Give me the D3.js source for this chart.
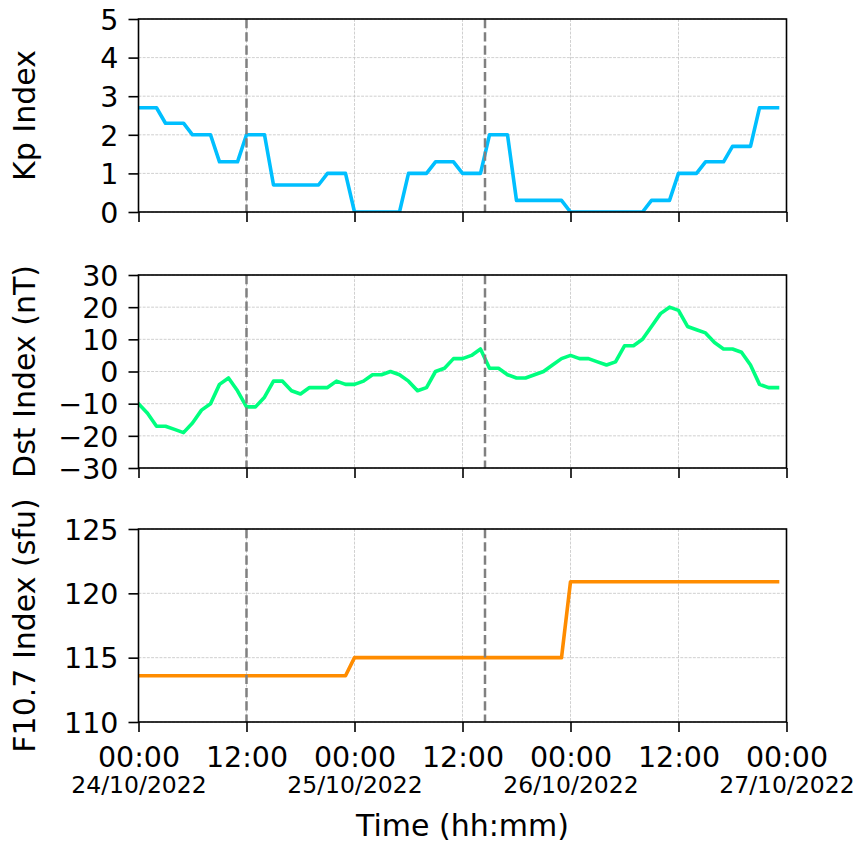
<!DOCTYPE html>
<html><head><meta charset="utf-8">
<script src="https://cdn.jsdelivr.net/npm/d3@7"></script>
<style>body{margin:0;background:#fff} text{font-family:"DejaVu Sans",sans-serif;fill:#000}</style>
</head><body><svg id="c" width="858" height="847"></svg>
<script>
// Hourly values, 24/10/2022 00:00 .. 26/10/2022 23:00
const kpValues = [2.7,2.7,2.7, 2.3,2.3,2.3, 2.0,2.0,2.0, 1.3,1.3,1.3,
  2.0,2.0,2.0, 0.7,0.7,0.7, 0.7,0.7,0.7, 1.0,1.0,1.0,
  0,0,0, 0,0,0, 1.0,1.0,1.0, 1.3,1.3,1.3,
  1.0,1.0,1.0, 2.0,2.0,2.0, 0.3,0.3,0.3, 0.3,0.3,0.3,
  0,0,0, 0,0,0, 0,0,0, 0.3,0.3,0.3,
  1.0,1.0,1.0, 1.3,1.3,1.3, 1.7,1.7,1.7, 2.7,2.7,2.7];
const dstValues = [-10,-13,-17,-17,-18,-19,-16,-12,-10,-4,-2,-6,
  -11,-11,-8,-3,-3,-6,-7,-5,-5,-5,-3,-4,
  -4,-3,-1,-1,0,-1,-3,-6,-5,0,1,4,
  4,5,7,1,1,-1,-2,-2,-1,0,2,4,
  5,4,4,3,2,3,8,8,10,14,18,20,
  19,14,13,12,9,7,7,6,2,-4,-5,-5];
const f107Values = [113.6,113.6,113.6,113.6,113.6,113.6,113.6,113.6,113.6,113.6,113.6,113.6,
  113.6,113.6,113.6,113.6,113.6,113.6,113.6,113.6,113.6,113.6,113.6,113.6,
  115.0,115.0,115.0,115.0,115.0,115.0,115.0,115.0,115.0,115.0,115.0,115.0,
  115.0,115.0,115.0,115.0,115.0,115.0,115.0,115.0,115.0,115.0,115.0,115.0,
  120.9,120.9,120.9,120.9,120.9,120.9,120.9,120.9,120.9,120.9,120.9,120.9,
  120.9,120.9,120.9,120.9,120.9,120.9,120.9,120.9,120.9,120.9,120.9,120.9];
const startTime = new Date(2022, 9, 24, 0, 0);
const endTime = new Date(2022, 9, 27, 0, 0);
const times = kpValues.map((_, i) => d3.timeHour.offset(startTime, i));
const markerTimes = [new Date(2022, 9, 24, 12, 0), new Date(2022, 9, 25, 14, 30)];
const xTickTimes = d3.timeHour.every(12).range(startTime, d3.timeHour.offset(endTime, 1));
const kpTicks = [0,1,2,3,4,5];
const dstTicks = [-30,-20,-10,0,10,20,30];
const f107Ticks = [110,115,120,125];

const svg = d3.select("#c");
const L = 138.5, R = 786.5;
const x = d3.scaleTime().domain([startTime, endTime]).range([L, R]);

const panels = [
  {label: "Kp Index", values: kpValues, domain: [0,5], ticks: kpTicks, color: "#00BFFF", top: 19, bottom: 212},
  {label: "Dst Index (nT)", values: dstValues, domain: [-30,30], ticks: dstTicks, color: "#00FF7F", top: 275, bottom: 468},
  {label: "F10.7 Index (sfu)", values: f107Values, domain: [110,125], ticks: f107Ticks, color: "#FF8C00", top: 529, bottom: 722}
];
const fmtNum = v => String(v).replace("-", "\u2212");

panels.forEach((p, idx) => {
  const y = d3.scaleLinear().domain(p.domain).range([p.bottom, p.top]);
  const g = svg.append("g");
  const clipId = "clip" + idx;
  svg.append("clipPath").attr("id", clipId).append("rect")
    .attr("x", L).attr("y", p.top).attr("width", R - L).attr("height", p.bottom - p.top);

  // grid
  g.append("g").selectAll("line").data(p.ticks).join("line")
    .attr("x1", L).attr("x2", R).attr("y1", d => y(d)).attr("y2", d => y(d))
    .attr("stroke", "#c4c4c4").attr("stroke-width", 0.8).attr("stroke-dasharray", "2.9,1.3");
  g.append("g").selectAll("line").data(xTickTimes).join("line")
    .attr("x1", d => x(d)).attr("x2", d => x(d)).attr("y1", p.top).attr("y2", p.bottom)
    .attr("stroke", "#c4c4c4").attr("stroke-width", 0.8).attr("stroke-dasharray", "2.9,1.3");

  // data line
  const line = d3.line().x((d, i) => x(times[i])).y(d => y(d));
  g.append("path").datum(p.values).attr("d", line)
    .attr("clip-path", `url(#${clipId})`)
    .attr("fill", "none").attr("stroke", p.color).attr("stroke-width", 3.6)
    .attr("stroke-linecap", "square").attr("stroke-linejoin", "round");

  // event markers
  g.append("g").selectAll("line").data(markerTimes).join("line")
    .attr("x1", d => x(d)).attr("x2", d => x(d)).attr("y1", p.top).attr("y2", p.bottom)
    .attr("stroke", "#808080").attr("stroke-width", 2.5).attr("stroke-dasharray", "9.25,4");

  // frame
  g.append("rect").attr("x", L).attr("y", p.top).attr("width", R - L).attr("height", p.bottom - p.top)
    .attr("fill", "none").attr("stroke", "#000").attr("stroke-width", 1.6);

  // y axis
  const ya = d3.axisLeft(y).tickValues(p.ticks).tickSize(10).tickPadding(10).tickFormat(fmtNum);
  const yg = g.append("g").attr("transform", `translate(${L},0)`).call(ya);
  yg.select(".domain").remove();
  yg.selectAll(".tick line").attr("stroke", "#000").attr("stroke-width", 1.6);
  yg.selectAll(".tick text").attr("font-size", 28.5).attr("font-family", "DejaVu Sans").attr("dy", "0.36em");

  // x axis
  const xa = d3.axisBottom(x).tickValues(xTickTimes).tickSize(10).tickFormat("");
  const xg = g.append("g").attr("transform", `translate(0,${p.bottom})`).call(xa);
  xg.select(".domain").remove();
  xg.selectAll(".tick line").attr("stroke", "#000").attr("stroke-width", 1.6);
  xg.selectAll(".tick text").remove();
  if (idx === 2) {
    xg.selectAll(".tick").each(function(d) {
      const t = d3.select(this);
      t.append("text").attr("x", 0).attr("y", 44.5).attr("text-anchor", "middle")
        .attr("font-size", 28.5).text(d3.timeFormat("%H:%M")(d));
      if (d.getHours() === 0) {
        t.append("text").attr("x", 0).attr("y", 70.5).attr("text-anchor", "middle")
          .attr("font-size", 23.5).text(d3.timeFormat("%d/%m/%Y")(d));
      }
    });
  }

  // y label
  svg.append("text").attr("transform", `translate(35,${(p.top + p.bottom) / 2}) rotate(-90)`)
    .attr("text-anchor", "middle").attr("font-size", 30).text(p.label);
});

svg.append("text").attr("x", (L + R) / 2).attr("y", 836).attr("text-anchor", "middle")
  .attr("font-size", 30).text("Time (hh:mm)");
</script></body></html>
